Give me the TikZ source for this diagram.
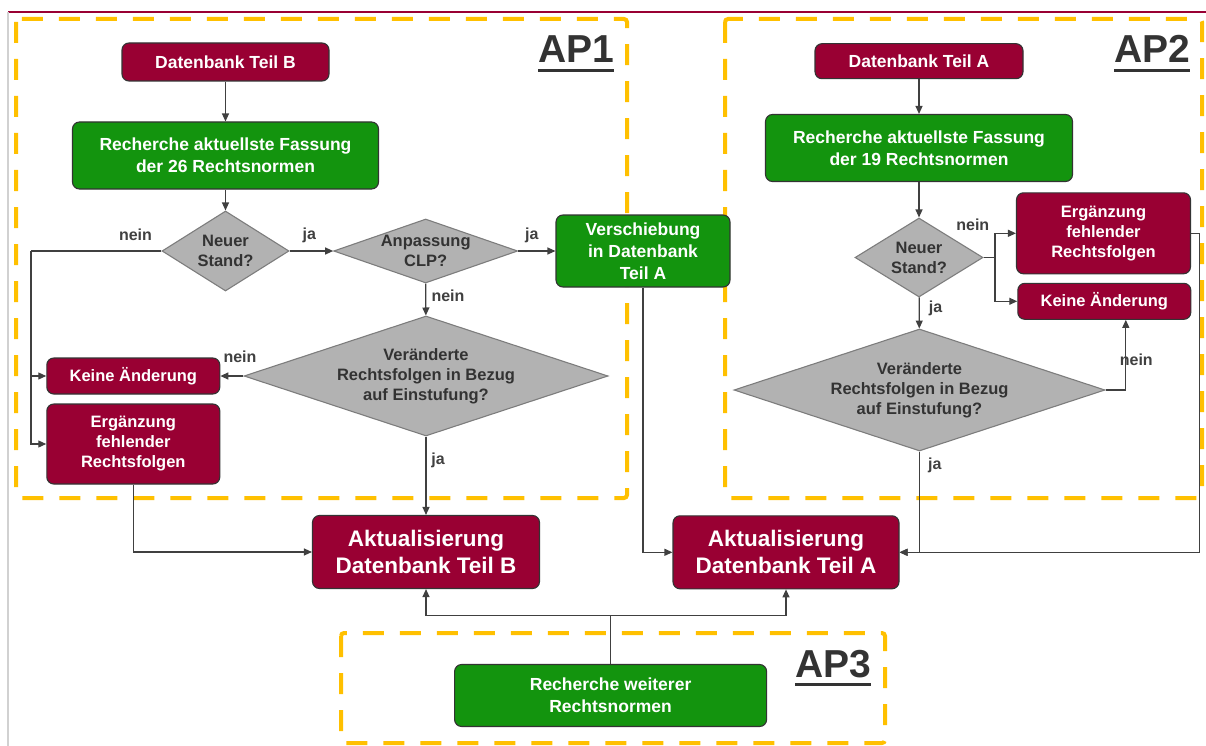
\documentclass[tikz,border=0pt]{standalone}
\usepackage{fontspec}
\setmainfont{Liberation Sans}
\usetikzlibrary{shapes.geometric, arrows.meta, positioning}
\definecolor{apmaroon}{RGB}{153,0,51}
\definecolor{apgreen}{RGB}{19,148,14}
\definecolor{apgray}{RGB}{178,178,178}
\definecolor{apedge}{RGB}{125,125,125}
\definecolor{apline}{RGB}{64,64,64}
\definecolor{apyellow}{RGB}{255,192,0}
\definecolor{aptext}{RGB}{51,51,51}

\begin{document}
\begin{tikzpicture}[
    x=1pt, y=-1pt,
    box/.style={rectangle, rounded corners=7pt, draw=black!80, line width=1.1pt, text=white, align=center, inner sep=0pt, font=\bfseries\fontsize{17.5}{22}\selectfont},
    redbox/.style={box, fill=apmaroon},
    greenbox/.style={box, fill=apgreen},
    smallred/.style={redbox, font=\bfseries\fontsize{16.5}{20}\selectfont},
    bigred/.style={redbox, font=\bfseries\fontsize{22.5}{27}\selectfont},
    decision/.style={diamond, draw=apedge, line width=1.1pt, fill=apgray, text=aptext, align=center, inner sep=0pt, font=\bfseries\fontsize{16.5}{20}\selectfont},
    flow/.style={draw=apline, line width=1.2pt, -{Triangle[length=8pt,width=7pt]}},
    link/.style={draw=apline, line width=1.2pt},
    answer/.style={text=apline, inner sep=0pt, font=\bfseries\fontsize{16}{16}\selectfont},
    apframe/.style={draw=apyellow, line width=4pt, dash pattern=on 21pt off 16pt, rounded corners=3pt},
    aplabel/.style={anchor=base west, inner sep=0pt, text=aptext, font=\bfseries\fontsize{39}{39}\selectfont}
]
    \useasboundingbox (0,0) rectangle (1206,746);
    \draw[apmaroon, line width=1.5pt] (8,12) -- (1206,12);
    \draw[black!18, line width=1.5pt] (8,12) -- (8,746);

    % --- WORK PACKAGE FRAMES ---
    \draw[apframe] (16,19) rectangle (627,498);
    \draw[apframe] (725,19) rectangle (1202,498);
    \draw[apframe] (341,633) rectangle (885,743);

    \node[aplabel] (ap1) at (538,63) {AP1};
    \node[aplabel] (ap2) at (1114,63) {AP2};
    \node[aplabel] (ap3) at (795,677) {AP3};
    \draw[line width=2.5pt, aptext] ([yshift=-7.5pt]ap1.base west) -- ([yshift=-7.5pt]ap1.base east);
    \draw[line width=2.5pt, aptext] ([yshift=-7.5pt]ap2.base west) -- ([yshift=-7.5pt]ap2.base east);
    \draw[line width=2.5pt, aptext] ([yshift=-7.5pt]ap3.base west) -- ([yshift=-7.5pt]ap3.base east);

    % --- AP1: DATENBANK TEIL B ---
    \node[redbox, minimum width=207pt, minimum height=38pt] (dbB) at (225.5,62) {Datenbank Teil B};
    \node[greenbox, minimum width=306pt, minimum height=67pt] (rechB) at (225.5,155.5) {Recherche aktuellste Fassung\\der 26 Rechtsnormen};
    \node[decision, minimum width=127pt, minimum height=80pt, aspect=1.59] (nsB) at (225.5,251) {Neuer\\Stand?};
    \node[decision, minimum width=184pt, minimum height=64pt, aspect=2.875, inner sep=-3pt] (clp) at (425.7,251) {Anpassung\\CLP?};
    \node[greenbox, minimum width=174pt, minimum height=72pt] (verA) at (643,251) {Verschiebung\\in Datenbank\\Teil A};
    \node[decision, minimum width=364pt, minimum height=120pt, aspect=3.03] (vrB) at (426,376) {Veränderte\\Rechtsfolgen in Bezug\\auf Einstufung?};
    \node[smallred, minimum width=173pt, minimum height=36pt] (keinB) at (133.3,376) {Keine Änderung};
    \node[smallred, minimum width=173pt, minimum height=80pt] (ergB) at (133.3,444) {Ergänzung\\fehlender\\Rechtsfolgen};
    \node[bigred, minimum width=227pt, minimum height=73pt] (aktB) at (426,552) {Aktualisierung\\Datenbank Teil B};

    \node[answer] (n1) at (135.5,234.3) {nein};
    \node[answer] (j1) at (309.4,235) {ja};
    \node[answer] (j2) at (531.8,235) {ja};
    \node[answer] (n2) at (448,295.5) {nein};
    \node[answer] (n3) at (240,356.7) {nein};
    \node[answer] (j3) at (438,460) {ja};

    \draw[flow] (dbB) -- (rechB);
    \draw[flow] (rechB) -- (nsB);
    \draw[flow] (nsB) -- (clp);
    \draw[flow] (clp) -- (verA);
    \coordinate (jB) at (31,251);
    \draw[link] (nsB.west) -- (jB);
    \draw[flow] (jB) |- (keinB.west);
    \draw[flow] (jB) |- (ergB.west);
    \draw[flow] (clp) -- (vrB);
    \draw[flow] (vrB) -- (keinB);
    \draw[flow] (vrB) -- (aktB);
    \draw[flow] (ergB) |- (aktB);

    % --- AP2: DATENBANK TEIL A ---
    \node[redbox, minimum width=208pt, minimum height=35pt] (dbA) at (919,61.2) {Datenbank Teil A};
    \node[greenbox, minimum width=307pt, minimum height=67pt] (rechA) at (919,148) {Recherche aktuellste Fassung\\der 19 Rechtsnormen};
    \node[decision, minimum width=128pt, minimum height=79pt, aspect=1.62] (nsA) at (919,257.5) {Neuer\\Stand?};
    \node[smallred, minimum width=174pt, minimum height=81pt] (ergA) at (1103.5,233.3) {Ergänzung\\fehlender\\Rechtsfolgen};
    \node[smallred, minimum width=173pt, minimum height=36pt] (keinA) at (1104.3,301.3) {Keine Änderung};
    \node[decision, minimum width=371pt, minimum height=122pt, aspect=3.04] (vrA) at (919.5,390) {Veränderte\\Rechtsfolgen in Bezug\\auf Einstufung?};
    \node[bigred, minimum width=226pt, minimum height=73pt] (aktA) at (786,552.3) {Aktualisierung\\Datenbank Teil A};

    \node[answer] (n4) at (972.8,224.3) {nein};
    \node[answer] (j4) at (935.5,308.3) {ja};
    \node[answer] (n5) at (1136.3,359.3) {nein};
    \node[answer] (j5) at (934.8,465) {ja};

    \draw[flow] (verA) |- (aktA);
    \draw[flow] (dbA) -- (rechA);
    \draw[flow] (rechA) -- (nsA);
    \coordinate (jA) at (995,257.5);
    \draw[link] (nsA.east) -- (jA);
    \draw[flow] (jA) |- (ergA.west);
    \draw[flow] (jA) |- (keinA.west);
    \draw[flow] (nsA) -- (vrA);
    \draw[flow] (vrA.east) -| ([xshift=21.5pt]keinA.south);
    \draw[flow] (vrA) |- (aktA);
    \draw[flow] (ergA.east) -- ++(8.5,0) |- (aktA.east);

    % --- AP3: WEITERE RECHTSNORMEN ---
    \node[greenbox, minimum width=312pt, minimum height=62pt] (rechW) at (610.6,695.5) {Recherche weiterer\\Rechtsnormen};
    \coordinate (jW) at (610.6,615.7);
    \draw[link] (rechW) -- (jW);
    \draw[flow] (jW) -| (aktB);
    \draw[flow] (jW) -| (aktA);
\end{tikzpicture}
\end{document}
